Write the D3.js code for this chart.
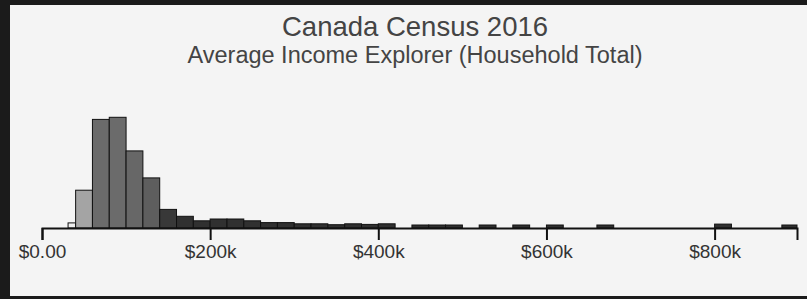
<!DOCTYPE html>
<html>
<head>
<meta charset="utf-8">
<script src="https://cdn.jsdelivr.net/npm/d3@7"></script>
<style>
  html, body { margin: 0; padding: 0; background: #1b1b1b; }
  svg { display: block; }
</style>
</head>
<body>
<svg id="chart" width="807" height="299"></svg>
<script>
// ---- data ----
const binStarts = [31000, 40000, 60000, 80000, 100000, 120000, 140000, 160000, 180000, 200000,
  220000, 240000, 260000, 280000, 300000, 320000, 340000, 360000, 380000, 400000,
  420000, 440000, 460000, 480000, 500000, 520000, 540000, 560000, 580000, 600000,
  620000, 640000, 660000, 680000, 700000, 720000, 740000, 760000, 780000, 800000,
  820000, 840000, 860000, 880000];
const binEnds = [40000, 60000, 80000, 100000, 120000, 140000, 160000, 180000, 200000, 220000,
  240000, 260000, 280000, 300000, 320000, 340000, 360000, 380000, 400000, 420000,
  440000, 460000, 480000, 500000, 520000, 540000, 560000, 580000, 600000, 620000,
  640000, 660000, 680000, 700000, 720000, 740000, 760000, 780000, 800000, 820000,
  840000, 860000, 880000, 898000];
const counts = [1.7, 12.6, 36.2, 36.9, 25.7, 16.7, 6.2, 3.9, 2.4, 3.0,
  3.0, 2.4, 1.8, 1.8, 1.4, 1.4, 1.1, 1.4, 1.2, 1.4,
  0, 1, 1, 1, 0, 1, 0, 1, 0, 1,
  0, 0, 1, 0, 0, 0, 0, 0, 0, 1.3,
  0, 0, 0, 1];
const xMax = 898000;
const tickValues = [0, 200000, 400000, 600000, 800000];
const tickLabels = ["$0.00", "$200k", "$400k", "$600k", "$800k"];
const titleText = "Canada Census 2016";
const subtitleText = "Average Income Explorer (Household Total)";

const bins = binStarts.map((s, i) => ({ x0: s, x1: binEnds[i], n: counts[i] }));

const svg = d3.select("#chart");

// panel
svg.append("rect").attr("x", 10).attr("y", 5).attr("width", 797).attr("height", 291).attr("fill", "#f4f4f4");

const x = d3.scaleLinear().domain([0, xMax]).range([42, 797]);
const y = d3.scaleLinear().domain([0, 40]).range([228, 108]);

const color = d3.scaleThreshold()
  .domain([40000, 60000, 100000, 120000, 140000, 160000])
  .range(["#eeeeee", "#a4a4a4", "#6b6b6b", "#676767", "#5e5e5e", "#383838", "#303030"]);

svg.append("g").selectAll("rect")
  .data(bins.filter(d => d.n > 0))
  .join("rect")
  .attr("x", d => x(d.x0))
  .attr("width", d => x(d.x1) - x(d.x0))
  .attr("y", d => y(d.n))
  .attr("height", d => y(0) - y(d.n))
  .attr("fill", d => color(d.x0))
  .attr("stroke", "#111")
  .attr("stroke-width", 1);

const axis = d3.axisBottom(x)
  .tickValues(tickValues)
  .tickFormat((d, i) => tickLabels[i])
  .tickSize(12)
  .tickSizeOuter(12)
  .tickPadding(5);

const gx = svg.append("g").attr("transform", "translate(0,228)").call(axis);
gx.select(".domain").attr("stroke", "#111").attr("stroke-width", 2);
gx.selectAll(".tick line").attr("stroke", "#111").attr("stroke-width", 2);
gx.selectAll(".tick text")
  .attr("fill", "#333")
  .style("font-family", "'Liberation Sans', Arial, sans-serif")
  .style("font-size", "19px");

svg.append("text").attr("x", 415).attr("y", 36).attr("text-anchor", "middle")
  .attr("fill", "#444").style("font-family", "'Liberation Sans', Arial, sans-serif")
  .style("font-size", "27.5px").text(titleText);
svg.append("text").attr("x", 415).attr("y", 63).attr("text-anchor", "middle")
  .attr("fill", "#444").style("font-family", "'Liberation Sans', Arial, sans-serif")
  .style("font-size", "23.5px").text(subtitleText);
</script>
</body>
</html>
